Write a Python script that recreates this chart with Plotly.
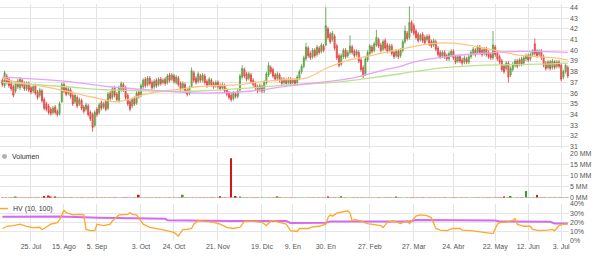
import pandas as pd
import plotly.graph_objects as go

# ---------------- data ----------------
holidays = ["2016-12-26", "2017-04-14", "2017-04-17", "2017-05-01"]
dates = [d for d in pd.bdate_range("2016-07-06", "2017-07-06") if d.strftime("%Y-%m-%d") not in holidays]

open_ = [
    37.2,36.7,37.6,37.3,37.0,36.6,36.2,37.1,36.5,37.2,
    36.9,36.4,36.9,36.5,36.2,36.7,36.1,35.8,36.2,35.4,
    35.0,34.8,34.5,34.2,34.7,34.3,34.1,35.2,36.8,36.5,
    36.0,36.3,35.8,35.2,35.6,35.0,35.3,34.7,34.5,34.8,
    34.2,34.0,33.0,34.5,34.2,35.1,34.7,35.2,34.6,36.0,
    35.6,36.5,35.9,35.3,36.3,36.8,36.5,35.8,35.2,34.8,
    35.5,35.1,36.1,35.8,36.6,37.3,36.8,37.4,37.0,36.6,
    37.2,36.8,37.3,37.0,37.3,37.0,37.7,37.3,37.6,
    37.0,37.4,36.9,36.5,36.8,36.3,36.0,36.6,37.9,37.4,
    37.1,37.6,37.2,37.6,37.1,36.8,37.2,36.9,36.7,37.0,
    36.7,36.5,36.7,36.3,36.0,35.8,35.5,35.9,35.7,36.3,
    37.5,38.2,37.8,37.4,37.7,37.2,36.9,36.6,36.3,36.6,
    36.2,37.0,37.7,38.4,38.2,37.7,37.4,37.7,37.3,37.0,
    37.2,37.0,37.3,37.0,37.2,37.0,37.4,38.0,38.5,39.2,
    40.2,39.7,39.4,40.0,39.6,40.2,39.9,40.4,40.5,42.0,
    41.5,41.0,41.3,40.4,39.5,38.7,39.4,40.0,39.5,39.8,
    40.3,39.9,39.6,39.8,39.1,38.4,37.8,39.1,39.7,40.3,
    40.0,40.5,41.0,40.5,40.1,40.9,40.5,40.0,40.4,39.8,
    39.5,39.9,39.5,40.0,40.8,41.6,41.2,42.6,42.3,
    41.8,41.5,41.0,41.5,41.2,41.0,41.3,40.8,40.5,40.8,
    40.2,39.8,39.5,39.8,39.5,39.2,39.6,39.9,39.4,39.0,
    39.4,39.1,38.9,39.2,38.9,39.4,39.7,40.0,39.8,40.3,
    40.0,39.7,40.1,39.8,39.6,39.3,40.3,39.8,39.4,39.0,
    38.5,38.3,38.8,37.7,38.2,38.6,39.0,38.7,39.2,38.8,
    39.2,39.5,39.2,39.6,40.6,39.9,39.6,39.9,39.4,38.8,
    38.4,38.9,38.4,38.9,38.5,38.9,38.6,37.5,38.0,38.4,
]
close = [
    36.8,37.9,37.0,36.7,36.4,35.8,36.9,36.6,37.3,36.7,
    36.4,36.9,36.3,36.1,36.6,36.0,35.6,36.3,35.3,34.6,
    34.5,34.2,34.1,34.6,34.2,34.0,35.0,36.8,36.2,35.9,
    36.4,35.7,35.0,35.8,34.8,35.4,34.6,34.3,34.9,34.0,
    33.6,32.8,34.2,34.0,34.9,34.6,35.0,34.5,35.9,35.5,
    36.4,35.8,35.4,36.5,36.9,36.3,35.6,35.0,34.5,35.4,
    35.0,36.0,35.7,36.7,37.2,36.7,37.4,36.9,36.5,37.1,
    36.7,37.3,36.9,37.2,36.9,37.6,37.2,37.7,37.1,
    37.5,36.8,36.4,36.9,36.2,35.9,36.5,38.1,37.2,37.0,
    37.8,37.2,37.7,37.0,36.7,37.3,36.8,36.6,37.0,36.6,
    36.4,36.8,36.2,35.9,35.6,35.4,36.0,35.7,36.2,37.6,
    38.3,37.6,37.3,37.8,37.1,36.8,36.5,36.2,36.7,36.2,
    37.0,37.8,38.6,38.0,37.6,37.3,37.8,37.2,36.9,37.3,
    36.9,37.3,36.9,37.2,36.9,37.5,38.0,38.5,39.3,40.3,
    39.5,39.3,40.0,39.5,40.3,39.8,40.5,40.0,42.3,41.2,
    40.8,41.6,40.2,39.3,38.6,39.5,40.0,39.4,39.8,40.4,
    39.8,39.5,39.9,39.0,38.2,37.6,39.2,39.8,40.4,39.9,
    40.6,41.2,40.4,40.0,40.8,40.2,39.9,40.4,39.7,39.4,
    39.9,39.4,40.0,40.8,41.8,41.1,42.6,41.8,41.6,
    41.2,40.9,41.4,40.9,40.7,41.3,40.6,40.4,40.9,40.1,
    39.6,39.4,39.8,39.4,39.2,39.7,39.9,39.3,38.9,39.4,
    39.0,38.8,39.3,38.9,39.4,39.8,40.1,39.6,40.3,39.8,
    39.6,40.1,39.6,39.4,39.3,40.5,39.6,39.2,38.9,38.2,
    38.0,38.8,37.5,38.3,38.7,39.0,38.5,39.1,38.7,39.3,
    39.5,39.1,39.6,39.9,39.7,39.5,39.9,39.3,38.6,38.3,
    38.9,38.3,39.0,38.4,38.9,38.5,37.3,38.0,38.6,37.6,
]
high = [
    37.4,38.1,37.8,37.5,37.2,36.8,37.1,37.3,37.5,37.4,
    37.1,37.1,37.1,36.7,36.8,36.9,36.3,36.5,36.4,35.6,
    35.2,35.0,34.7,34.8,34.9,34.5,35.2,37.0,37.0,36.7,
    36.6,36.5,36.0,36.0,35.8,35.6,35.5,34.9,35.1,35.0,
    34.4,34.2,34.4,34.7,35.1,35.3,35.2,35.4,36.1,36.2,
    36.6,36.7,36.1,36.7,37.1,37.0,36.7,36.0,35.4,35.6,
    35.7,36.2,36.3,36.9,37.4,37.5,37.6,37.6,37.2,37.3,
    37.4,37.5,37.5,37.4,37.5,37.8,37.9,37.9,37.8,
    37.7,37.6,37.1,37.1,37.0,36.5,36.7,38.4,38.1,37.6,
    38.0,37.8,37.9,37.8,37.3,37.5,37.4,37.1,37.2,37.2,
    36.9,37.0,36.9,36.5,36.2,36.0,36.2,36.1,36.4,37.8,
    38.6,38.4,38.0,38.0,37.9,37.4,37.1,36.8,36.9,36.8,
    37.2,38.0,38.9,38.6,38.4,37.9,38.0,37.9,37.5,37.5,
    37.4,37.5,37.5,37.4,37.4,37.7,38.2,38.7,39.5,40.7,
    40.4,39.9,40.2,40.2,40.5,40.4,40.7,40.6,44.0,42.2,
    41.7,41.8,41.5,40.6,39.7,39.7,40.2,40.2,40.0,41.4,
    40.5,40.1,40.1,40.0,39.3,38.6,39.4,40.0,40.6,40.5,
    40.8,41.9,41.2,40.7,41.0,41.1,40.7,40.6,40.6,40.0,
    40.1,40.1,40.2,41.0,42.3,41.8,44.1,42.8,42.5,
    42.0,41.7,41.6,41.7,41.4,41.5,41.5,41.0,41.1,41.0,
    40.4,40.0,40.0,40.0,39.7,39.9,40.1,40.1,39.6,39.6,
    39.6,39.3,39.5,39.4,39.6,40.0,40.3,40.2,40.5,40.5,
    40.2,40.3,40.3,40.0,39.8,41.8,40.5,40.0,39.6,39.2,
    38.7,39.0,39.0,38.5,38.9,39.2,39.2,39.3,39.4,39.5,
    39.7,39.7,39.8,40.1,41.1,40.1,40.1,40.1,39.6,39.0,
    39.1,39.1,39.2,39.1,39.1,39.1,38.8,38.2,38.8,38.6,
]
low = [
    36.6,36.5,36.8,36.5,36.2,35.6,36.0,36.4,36.3,36.5,
    36.2,36.2,36.1,35.9,36.0,35.8,35.4,35.6,35.1,34.4,
    34.3,34.0,33.9,34.0,34.0,33.8,33.9,35.1,36.0,35.7,
    35.8,35.5,34.8,35.0,34.6,34.8,34.4,34.1,34.3,33.8,
    33.4,32.4,32.8,33.8,34.0,34.4,34.5,34.3,34.4,35.3,
    35.4,35.6,35.2,35.1,36.1,36.1,35.4,34.8,34.3,34.6,
    34.8,34.9,35.5,35.6,36.4,36.5,36.6,36.7,36.3,36.4,
    36.5,36.6,36.7,36.8,36.7,36.8,37.0,37.1,36.9,
    36.8,36.6,36.2,36.3,36.0,35.7,35.8,36.5,37.0,36.8,
    36.9,37.0,37.0,36.8,36.5,36.6,36.6,36.4,36.5,36.4,
    36.2,36.3,36.0,35.7,35.4,35.2,35.3,35.5,35.5,36.1,
    37.3,37.4,37.1,37.2,36.9,36.6,36.3,36.0,36.1,36.0,
    36.0,36.8,37.5,37.8,37.4,37.1,37.2,37.0,36.7,36.8,
    36.7,36.8,36.7,36.8,36.7,36.8,37.2,37.8,38.3,39.0,
    39.3,39.1,39.2,39.3,39.4,39.6,39.7,39.8,40.4,41.0,
    40.6,40.8,40.0,39.1,38.4,38.5,39.2,39.2,39.3,39.6,
    39.6,39.3,39.4,38.8,38.0,37.4,37.6,38.9,39.5,39.7,
    39.8,40.3,40.2,39.8,39.9,40.0,39.7,39.8,39.5,39.2,
    39.3,39.2,39.3,39.8,40.6,40.9,41.0,41.6,41.4,
    41.0,40.7,40.8,40.7,40.5,40.8,40.4,40.2,40.3,39.9,
    39.4,39.2,39.3,39.2,39.0,39.0,39.4,39.1,38.7,38.8,
    38.8,38.6,38.7,38.7,38.7,39.2,39.5,39.4,39.6,39.6,
    39.4,39.5,39.4,39.2,39.1,39.1,39.4,39.0,38.7,38.0,
    37.8,38.1,37.0,37.5,38.0,38.4,38.3,38.5,38.5,38.6,
    39.0,38.9,39.0,39.4,39.5,39.3,39.4,39.1,38.4,38.1,
    38.2,38.1,38.2,38.2,38.3,38.3,37.1,37.3,37.8,37.4,
]

# volume in millions (most sessions are tiny)
volume = [0.06] * 258
vol_special_idx = [6, 19, 21, 22, 24, 62, 82, 99, 104, 106, 108, 125, 148, 154, 179, 228, 231, 238, 243]
vol_special_val = [0.3, 0.8, 1.0, 0.6, 0.5, 1.3, 1.3, 0.7, 17.8, 0.8, 0.6, 0.7, 0.6, 0.7, 0.6, 0.6, 0.8, 3.0, 1.2]
for k, v in zip(vol_special_idx, vol_special_val):
    volume[k] = v

# moving averages (trading-day index, price)
ma_orange_idx = [0,5,14,22,29,37,44,51,57,65,73,82,88,97,108,119,131,138,147,156,165,174,181,194,202,208,217,224,233,242,251,257]
ma_orange_val = [37.4,37.1,36.8,36.5,36.2,35.8,35.5,35.2,35.4,35.9,36.2,36.4,36.6,36.7,36.8,37.1,37.3,37.4,38.3,39.0,39.4,39.8,40.1,40.6,40.7,40.6,40.3,40.0,39.6,39.4,39.3,39.1]
ma_green_idx = [0,29,49,90,113,131,151,174,187,202,217,244,257]
ma_green_val = [37.0,36.6,36.3,36.2,36.5,36.8,37.0,37.6,38.0,38.4,38.6,38.7,38.8]
ma_purple_idx = [0,29,49,67,90,113,131,159,174,181,187,202,217,235,257]
ma_purple_val = [37.5,37.1,36.6,36.3,36.0,36.2,36.7,37.4,38.2,38.5,38.9,39.4,39.7,39.9,39.8]

# HV (10, 100) in %
hv_idx = [0,2,5,8,11,14,17,18,22,25,26,28,29,32,35,37,38,40,42,43,46,49,50,53,57,58,59,61,64,67,72,75,78,80,82,84,86,87,89,91,96,99,102,105,108,110,114,118,120,122,123,126,129,131,134,135,139,141,144,147,148,149,150,152,154,157,158,159,160,163,166,168,172,173,175,178,181,184,185,188,190,193,195,197,199,202,205,208,209,213,216,219,222,223,225,226,229,232,233,234,237,240,241,244,248,250,251,253,255,257]
hv_val = [13.3,15.7,16.5,18,15.7,14.3,14.6,12,18,19.6,23,33,30.6,28,28.6,28,12.3,11,11,18,16.5,18,21.4,28,28.6,30.6,28.6,28,18,14.6,12.3,11,9,5,12,12.3,13.3,18,22,21.4,20,18,14.6,13.3,14.6,21,21,20,16.5,21.4,22,20,18,11,10,13.3,13.3,15,15.7,18,25,28,26.7,30,31,32.5,30,21.4,23,21.4,18.6,18,16.5,14.3,20,21.4,18.6,22,18.6,26.7,28,27.3,25,13.3,11.6,11,13.3,13.3,11.6,11,10,8.3,7.5,7.7,18,19.6,20.3,22,24,18,15.7,15.7,12.3,11,11.6,12.3,11,16.5,18,18]
hv_ma_idx = [0,26,44,58,74,75,104,129,131,147,149,185,188,224,226,249,251,257]
hv_ma_val = [26,26.3,25,24.5,24,22.3,21.3,21.3,19.3,19.5,21,21,22.5,22,21,20.5,18.8,18.6]

tick_dates = ["2016-07-25","2016-08-15","2016-09-05","2016-10-03","2016-10-24","2016-11-21","2016-12-19",
              "2017-01-09","2017-01-30","2017-02-27","2017-03-27","2017-04-24","2017-05-22","2017-06-12","2017-07-03"]
tick_text = ["25. Jul","15. Ago","5. Sep","3. Oct","24. Oct","21. Nov","19. Dic",
             "9. En","30. En","27. Feb","27. Mar","24. Abr","22. May","12. Jun","3. Jul"]

price_ticks = list(range(31, 45))
vol_ticks = [0, 5, 10, 15, 20]
vol_text = ["0 MM", "5 MM", "10 MM", "15 MM", "20 MM"]
hv_ticks = [0, 10, 20, 30, 40]
hv_text = ["0%", "10%", "20%", "30%", "40%"]

# ---------------- figure ----------------
RED_F, RED_L = "#f47a7a", "#e03a3a"
GRN_F, GRN_L = "#7cb45f", "#559c3d"
FONT = "Liberation Sans"

fig = go.Figure()
fig.add_trace(go.Candlestick(
    x=dates, open=open_, high=high, low=low, close=close,
    increasing=dict(line=dict(color=GRN_L, width=0.8), fillcolor=GRN_F),
    decreasing=dict(line=dict(color=RED_L, width=0.8), fillcolor=RED_F),
    whiskerwidth=0, xaxis="x", yaxis="y", hoverinfo="skip", showlegend=False))

for idx, val, col in [(ma_orange_idx, ma_orange_val, "#ffc580"),
                      (ma_green_idx, ma_green_val, "#b9e28e"),
                      (ma_purple_idx, ma_purple_val, "#e7a3f7")]:
    fig.add_trace(go.Scatter(x=[dates[i] for i in idx], y=val, mode="lines",
                             line=dict(color=col, width=1.3, shape="spline"),
                             xaxis="x", yaxis="y", hoverinfo="skip", showlegend=False))

vol_colors = ["#3a9a2a" if c >= o else "#cc1818" for o, c in zip(open_, close)]
fig.add_trace(go.Bar(x=dates, y=volume, marker=dict(color=vol_colors, line=dict(width=0)),
                     xaxis="x2", yaxis="y2", hoverinfo="skip", showlegend=False))

fig.add_trace(go.Scatter(x=[dates[i] for i in hv_ma_idx], y=hv_ma_val, mode="lines",
                         line=dict(color="#d36af0", width=2),
                         xaxis="x3", yaxis="y3", hoverinfo="skip", showlegend=False))
fig.add_trace(go.Scatter(x=[dates[i] for i in hv_idx], y=hv_val, mode="lines",
                         line=dict(color="#ffa62b", width=1.3),
                         xaxis="x3", yaxis="y3", hoverinfo="skip", showlegend=False))

xrange = ["2016-07-04 22:00", "2017-07-06 13:00"]
rb = [dict(bounds=["sat", "mon"]), dict(values=holidays)]
H = 241.0
def dom(top_px, bot_px):
    return [(H - bot_px) / H, (H - top_px) / H]

xcommon = dict(type="date", range=xrange, rangebreaks=rb, tickvals=tick_dates, ticktext=tick_text,
               showgrid=True, gridcolor="#e3e3e3", gridwidth=1, zeroline=False, showline=False,
               rangeslider=dict(visible=False), tickfont=dict(family=FONT, size=7, color="#555"),
               ticks="")
ycommon = dict(side="right", showgrid=True, gridcolor="#e6e6e6", gridwidth=1, zeroline=False,
               showline=False, ticks="", tickfont=dict(family=FONT, size=7, color="#555"))

fig.update_layout(
    width=595, height=257, margin=dict(l=0, r=26, t=0, b=16),
    paper_bgcolor="white", plot_bgcolor="white", showlegend=False, bargap=0.25,
    xaxis=dict(xcommon, anchor="y", showticklabels=False),
    xaxis2=dict(xcommon, anchor="y2", matches="x", showticklabels=False),
    xaxis3=dict(xcommon, anchor="y3", matches="x", showticklabels=True),
    yaxis=dict(ycommon, domain=dom(0, 147), range=[30.83, 44.32], tickvals=price_ticks),
    yaxis2=dict(ycommon, domain=dom(152, 197), range=[0, 20], tickvals=vol_ticks, ticktext=vol_text),
    yaxis3=dict(ycommon, domain=dom(203.3, 240.7), range=[0, 40], tickvals=hv_ticks, ticktext=hv_text),
)

W = 569.0
def px(x, y):
    return x / W, (H - y) / H

fig.add_shape(type="circle", xref="paper", yref="paper",
              x0=px(2, 0)[0], x1=px(7, 0)[0], y0=px(0, 157.5)[1], y1=px(0, 152.5)[1],
              fillcolor="#b0b0b0", line=dict(width=0))
fig.add_annotation(text="Volumen", xref="paper", yref="paper", x=px(10, 0)[0], y=px(0, 155)[1],
                   xanchor="left", yanchor="middle", showarrow=False,
                   font=dict(family=FONT, size=7, color="#333"))
fig.add_shape(type="line", xref="paper", yref="paper",
              x0=0, x1=px(8, 0)[0], y0=px(0, 208)[1], y1=px(0, 208)[1],
              line=dict(color="#ffa62b", width=1.5))
fig.add_annotation(text="HV (10, 100)", xref="paper", yref="paper", x=px(11, 0)[0], y=px(0, 208)[1],
                   xanchor="left", yanchor="middle", showarrow=False,
                   font=dict(family=FONT, size=7, color="#333"))

fig.write_html("out.html")
